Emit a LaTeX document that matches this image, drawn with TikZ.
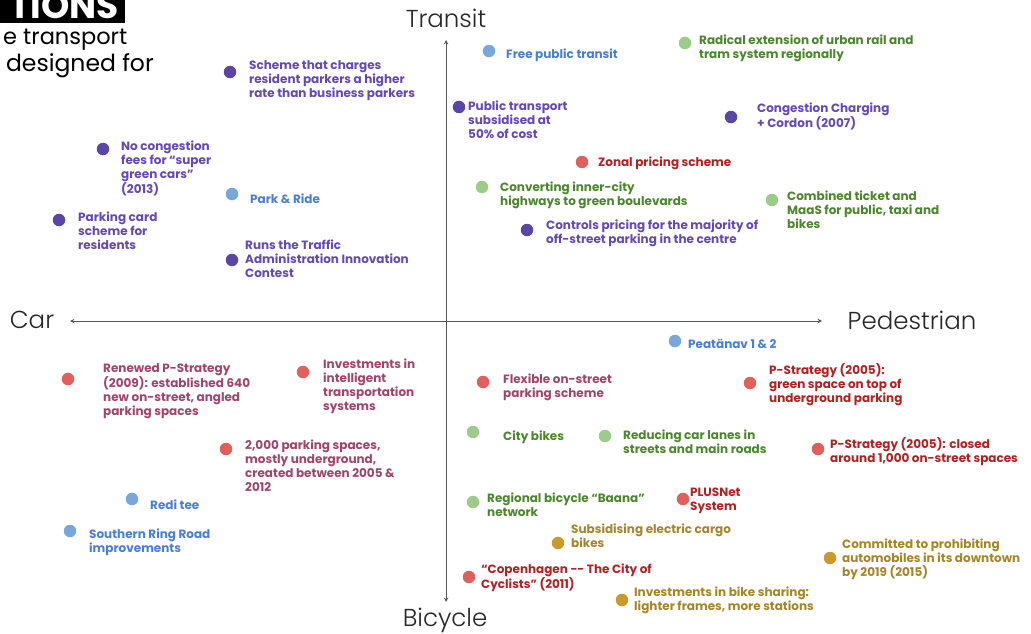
\documentclass[tikz,border=0pt]{standalone}
\usepackage{fontspec}
\setmainfont{Poppins}
\newfontfamily\axisfont{Poppins Light}
\usetikzlibrary{positioning, arrows}
\tikzset{>=stealth}

\definecolor{purpdot}{HTML}{5B45A6}
\definecolor{purptxt}{HTML}{6448B4}
\definecolor{bluedot}{HTML}{7AA7DB}
\definecolor{bluetxt}{HTML}{4A7ED2}
\definecolor{greendot}{HTML}{9CCB8A}
\definecolor{greentxt}{HTML}{4A862B}
\definecolor{reddot}{HTML}{E0605E}
\definecolor{redtxt}{HTML}{B02222}
\definecolor{mauvetxt}{HTML}{A0446B}
\definecolor{golddot}{HTML}{C89B2C}
\definecolor{goldtxt}{HTML}{A48626}
\definecolor{axisgray}{HTML}{555555}

\begin{document}
\begin{tikzpicture}[
    x=1pt, y=-1pt,
    dot/.style={circle, fill=#1, inner sep=0pt, minimum size=12.5pt},
    policy/.style={anchor=west, align=left, inner sep=0pt, text=#1,
                   yshift=-1.5pt,
                   font=\bfseries\fontsize{12}{14}\selectfont},
    axis/.style={<->, line width=1pt, draw=axisgray},
    axlabel/.style={font=\axisfont\fontsize{24.5}{24.5}\selectfont,
                    text=black!85, inner sep=0pt},
  ]
  \useasboundingbox (0,0) rectangle (1031,634);
  \clip (0,0) rectangle (1031,634);

  % slide title, cut off at the left
  \fill[black] (0,0) rectangle (125,23);
  \node[anchor=base east, inner sep=0pt, text=white,
        font=\bfseries\fontsize{36}{36}\selectfont] (title) at (119,19) {TIONS};
  \node[anchor=base east, inner sep=0pt,
        font=\fontsize{22.5}{22.5}\selectfont] (sub1) at (127.5,45) {e transport};
  \node[anchor=base east, inner sep=0pt,
        font=\fontsize{23.5}{23.5}\selectfont] (sub2) at (154,72) {designed for};

  % axes
  \coordinate (top) at (446,40);
  \coordinate (bot) at (446,602);
  \coordinate (lft) at (70,321);
  \coordinate (rgt) at (822,321);
  \draw[axis] (bot) -- (top);
  \draw[axis] (lft) -- (rgt);
  \node[axlabel] (transit) at (446,18) {Transit};
  \node[axlabel] (bicycle) at (445,620) {Bicycle};
  \node[axlabel] (car) at (32,320) {Car};
  \node[axlabel] (pedestrian) at (912,320) {Pedestrian};

  % car / transit
  \node[dot=purpdot] (dResPark) at (230,72) {};
  \node[policy=purptxt] (resPark) at (249,79)
    {Scheme that charges\\resident parkers a higher\\rate than business parkers};
  \node[dot=purpdot] (dGreenCars) at (103,149) {};
  \node[policy=purptxt] (greenCars) at (121,167)
    {No congestion\\fees for “super\\green cars”\\(2013)};
  \node[dot=bluedot] (dParkRide) at (232,194) {};
  \node[policy=bluetxt] (parkRide) at (250,197) {Park \& Ride};
  \node[dot=purpdot] (dCard) at (59,220) {};
  \node[policy=purptxt] (card) at (78,229)
    {Parking card\\scheme for\\residents};
  \node[dot=purpdot] (dContest) at (232,260) {};
  \node[policy=purptxt] (contest) at (245,257)
    {Runs the Traffic\\Administration Innovation\\Contest};

  % pedestrian / transit
  \node[dot=bluedot] (dFree) at (489,51) {};
  \node[policy=bluetxt] (free) at (506,54) {Free public transit};
  \node[dot=purpdot] (dSubsid) at (459,107) {};
  \node[policy=purptxt] (subsid) at (468,118)
    {Public transport\\subsidised at\\50\% of cost};
  \node[dot=greendot] (dRail) at (685,43) {};
  \node[policy=greentxt] (rail) at (699,47)
    {Radical extension of urban rail and\\tram system regionally};
  \node[dot=purpdot] (dCordon) at (731,117) {};
  \node[policy=purptxt] (cordon) at (757,115)
    {Congestion Charging\\+ Cordon (2007)};
  \node[dot=reddot] (dZonal) at (582,162) {};
  \node[policy=redtxt] (zonal) at (598,162) {Zonal pricing scheme};
  \node[dot=greendot] (dBlvd) at (482,187) {};
  \node[policy=greentxt] (blvd) at (500,194)
    {Converting inner-city\\highways to green boulevards};
  \node[dot=greendot] (dMaas) at (772,200) {};
  \node[policy=greentxt] (maas) at (787,208)
    {Combined ticket and\\MaaS for public, taxi and\\bikes};
  \node[dot=purpdot] (dOffStreet) at (527,230) {};
  \node[policy=purptxt] (offStreet) at (546,232)
    {Controls pricing for the majority of\\off-street parking in the centre};

  % car / bicycle
  \node[dot=reddot] (dRenewed) at (68,379) {};
  \node[policy=mauvetxt] (renewed) at (103,390)
    {Renewed P-Strategy\\(2009): established 640\\new on-street, angled\\parking spaces};
  \node[dot=reddot] (dIts) at (303,372) {};
  \node[policy=mauvetxt] (its) at (323,385)
    {Investments in\\intelligent\\transportation\\systems};
  \node[dot=reddot] (dUnder) at (226,449) {};
  \node[policy=mauvetxt] (under) at (245,464)
    {2,000 parking spaces,\\mostly underground,\\created between 2005 \&\\2012};
  \node[dot=bluedot] (dRedi) at (132,499) {};
  \node[policy=bluetxt] (redi) at (150,503) {Redi tee};
  \node[dot=bluedot] (dRing) at (70,531) {};
  \node[policy=bluetxt] (ring) at (89,541)
    {Southern Ring Road\\improvements};

  % pedestrian / bicycle
  \node[dot=bluedot] (dPeat) at (675,341) {};
  \node[policy=bluetxt] (peat) at (688,342) {Peatänav 1 \& 2};
  \node[dot=reddot] (dFlex) at (483,382) {};
  \node[policy=mauvetxt] (flex) at (503,386)
    {Flexible on-street\\parking scheme};
  \node[dot=reddot] (dGreenSp) at (750,383) {};
  \node[policy=redtxt] (greenSp) at (769,383)
    {P-Strategy (2005):\\green space on top of\\underground parking};
  \node[dot=greendot] (dCityBikes) at (473,432) {};
  \node[policy=greentxt] (cityBikes) at (503,436) {City bikes};
  \node[dot=greendot] (dLanes) at (605,436) {};
  \node[policy=greentxt] (lanes) at (623,440)
    {Reducing car lanes in\\streets and main roads};
  \node[dot=reddot] (dClosed) at (818,449) {};
  \node[policy=redtxt] (closed) at (830,450)
    {P-Strategy (2005): closed\\around 1,000 on-street spaces};
  \node[dot=greendot] (dBaana) at (473,502) {};
  \node[policy=greentxt] (baana) at (487,503)
    {Regional bicycle “Baana”\\network};
  \node[dot=reddot] (dPlus) at (683,499) {};
  \node[policy=redtxt] (plus) at (690,499) {PLUSNet\\System};
  \node[dot=golddot] (dCargo) at (558,543) {};
  \node[policy=goldtxt] (cargo) at (571,534)
    {Subsidising electric cargo\\bikes};
  \node[dot=golddot] (dProhib) at (830,558) {};
  \node[policy=goldtxt] (prohib) at (842,558)
    {Committed to prohibiting\\automobiles in its downtown\\by 2019 (2015)};
  \node[dot=reddot] (dCph) at (469,577) {};
  \node[policy=redtxt] (cph) at (481,576)
    {“Copenhagen -{}- The City of\\Cyclists” (2011)};
  \node[dot=golddot] (dShare) at (622,600) {};
  \node[policy=goldtxt] (share) at (634,599)
    {Investments in bike sharing:\\lighter frames, more stations};
\end{tikzpicture}
\end{document}
